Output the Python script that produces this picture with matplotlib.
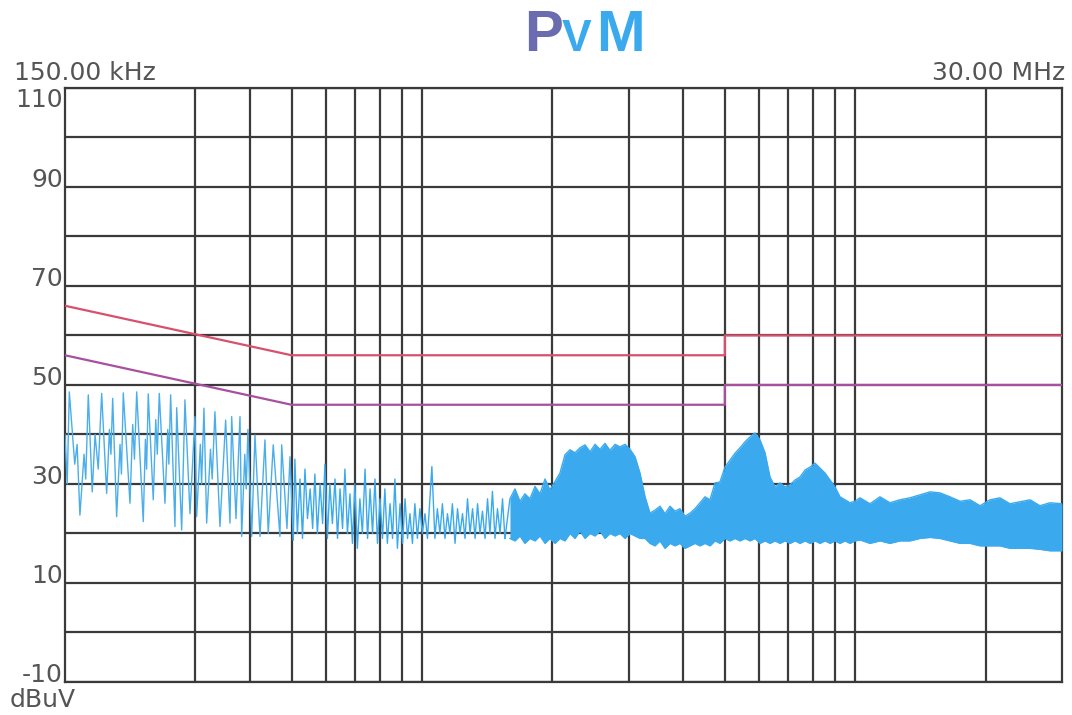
import matplotlib
matplotlib.use('Agg')
import matplotlib.pyplot as plt
import matplotlib.transforms as mtransforms


# sweep range, MHz
f_start = 0.15
f_stop = 30.0

# grid
grid_freqs = [0.3, 0.4, 0.5, 0.6, 0.7, 0.8, 0.9, 1, 2, 3, 4, 5, 6, 7, 8, 9, 10, 20]
level_ticks = [110, 90, 70, 50, 30, 10, -10]
level_grid = list(range(-10, 111, 10))

# class B limits, dBuV (quasi-peak and average)
qp_freqs = [0.15, 0.5, 5.0, 5.0, 30.0]
qp_limit = [66, 56, 56, 60, 60]
avg_freqs = [0.15, 0.5, 5.0, 5.0, 30.0]
avg_limit = [56, 46, 46, 50, 50]

# scan 150k - 500k, harmonics of the switcher
low_f = [0.150, 0.1518, 0.1535, 0.1580, 0.1600, 0.1624, 0.1660, 0.1675, 0.1698,
         0.1734, 0.1760, 0.1790, 0.1823, 0.1872, 0.1900, 0.1915, 0.1933, 0.1974,
         0.2010, 0.2025, 0.2045, 0.2119, 0.2150, 0.2170, 0.2196, 0.2274, 0.2300,
         0.2315, 0.2335, 0.2398, 0.2430, 0.2450, 0.2476, 0.2552, 0.2590, 0.2605,
         0.2630, 0.2691, 0.2716, 0.2789, 0.2838, 0.2915, 0.2993, 0.3020, 0.3080,
         0.3100, 0.3140, 0.3185, 0.3250, 0.3280, 0.3328, 0.3418, 0.3523, 0.3605,
         0.3638, 0.3722, 0.3802, 0.3836, 0.3900, 0.3930, 0.3966, 0.4046, 0.4117,
         0.4228, 0.4341, 0.4418, 0.4537, 0.4701, 0.4745, 0.4880, 0.4959, 0.5047]
low_db = [40.0, 30.0, 48.6, 34.0, 38.0, 23.7, 36.0, 31.0, 48.0,
          28.4, 40.0, 33.0, 48.3, 28.1, 41.0, 36.0, 47.3, 23.4,
          38.0, 32.0, 48.4, 26.1, 42.0, 35.0, 48.6, 22.4, 39.0,
          33.0, 48.2, 26.8, 43.0, 36.0, 48.3, 26.1, 41.0, 34.0,
          48.0, 21.4, 45.4, 20.7, 47.0, 24.0, 43.6, 23.4, 38.0,
          30.0, 45.3, 22.1, 37.0, 31.0, 44.6, 21.4, 42.9, 22.1,
          43.6, 23.0, 43.6, 19.4, 36.0, 29.0, 41.0, 19.4, 39.9,
          19.4, 38.9, 20.0, 37.9, 19.4, 37.9, 21.0, 35.5, 18.7]

# scan 500k - 1.55M
mid_f = [0.509, 0.5158, 0.523, 0.5300, 0.537, 0.5442, 0.552, 0.5594, 0.566, 0.5736,
         0.582, 0.5898, 0.597, 0.6050, 0.613, 0.6212, 0.630, 0.6384, 0.647, 0.6557,
         0.664, 0.6729, 0.682, 0.6911, 0.700, 0.7094, 0.719, 0.7286, 0.739, 0.7489,
         0.759, 0.7691, 0.779, 0.7894, 0.800, 0.8107, 0.821, 0.8320, 0.844, 0.8553,
         0.866, 0.8776, 0.890, 0.9019, 0.914, 0.9262, 0.938, 0.9505, 0.963, 0.9759,
         0.989, 1.0022, 1.016, 1.0296, 1.054, 1.071, 1.0853, 1.100, 1.1147, 1.130,
         1.1451, 1.160, 1.1755, 1.192, 1.2079, 1.224, 1.2404, 1.257, 1.2738, 1.291,
         1.3083, 1.326, 1.3437, 1.361, 1.3792, 1.398, 1.4167, 1.435, 1.4542, 1.474,
         1.4937, 1.514, 1.5342, 1.554]
mid_db = [35.0, 20.0, 31.0, 19.0, 33.0, 23.0, 29.0, 21.0, 32.0, 20.0,
          30.0, 22.0, 34.0, 19.0, 30.0, 22.0, 31.0, 19.0, 29.0, 21.0,
          33.0, 20.0, 28.0, 18.0, 30.0, 17.0, 27.0, 20.0, 33.0, 19.0,
          29.0, 20.0, 31.0, 18.0, 27.0, 19.0, 29.0, 18.0, 26.0, 19.0,
          31.0, 17.0, 26.0, 18.0, 27.0, 19.0, 24.0, 18.0, 26.0, 19.0,
          25.0, 20.0, 24.0, 19.0, 33.5, 19.0, 25.0, 20.0, 26.0, 19.0,
          24.0, 20.0, 26.0, 18.0, 25.0, 20.0, 24.0, 19.0, 27.0, 20.0,
          25.0, 19.0, 26.0, 20.0, 24.5, 19.0, 27.0, 20.0, 28.5, 19.0,
          25.0, 20.0, 27.0, 19.0]

# scan 1.6M - 30M, dense band (upper / lower edge)
band_f = [1.596, 1.639, 1.683, 1.728, 1.775, 1.823, 1.872, 1.923, 1.974, 2.028,
          2.082, 2.138, 2.196, 2.255, 2.316, 2.378, 2.442, 2.508, 2.575, 2.645,
          2.715, 2.790, 2.863, 2.942, 3.020, 3.102, 3.185, 3.272, 3.359, 3.449,
          3.542, 3.638, 3.736, 3.836, 3.939, 4.046, 4.155, 4.266, 4.382, 4.499,
          4.621, 4.745, 4.872, 5.004, 5.138, 5.277, 5.419, 5.565, 5.715, 5.868,
          6.027, 6.189, 6.356, 6.526, 6.703, 6.883, 7.068, 7.259, 7.454, 7.656,
          7.861, 8.073, 8.290, 8.514, 8.742, 8.976, 9.219, 9.467, 9.720, 9.984,
          10.25, 10.81, 11.40, 12.02, 12.68, 13.37, 14.10, 14.87, 15.68, 16.54,
          17.45, 18.40, 19.40, 20.46, 21.57, 22.75, 24.00, 25.31, 26.68, 28.14,
          30.00]
band_hi = [27.0, 29.0, 26.5, 28.0, 27.0, 29.5, 28.0, 31.0, 28.8, 30.5,
           32.2, 35.9, 36.9, 36.3, 37.3, 37.9, 36.5, 38.0, 37.0, 38.2,
           36.8, 38.0, 37.5, 38.0, 37.0, 35.5, 32.2, 27.4, 24.1, 24.7,
           25.5, 24.0, 25.5, 24.5, 25.0, 23.5, 24.1, 25.0, 26.2, 27.4,
           26.8, 30.2, 30.4, 33.4, 34.8, 36.2, 37.3, 38.5, 39.5, 40.3,
           38.9, 36.3, 31.4, 29.4, 30.2, 29.4, 29.8, 30.8, 31.4, 32.8,
           33.4, 34.2, 33.2, 32.2, 30.8, 29.4, 27.4, 26.8, 26.2, 26.5,
           27.2, 26.0, 27.4, 26.2, 26.8, 27.2, 27.8, 28.4, 28.2, 27.4,
           26.5, 26.8, 25.6, 26.8, 27.2, 26.0, 26.4, 26.8, 25.6, 26.2,
           26.0]
band_lo = [19.0, 18.5, 19.5, 18.0, 19.0, 18.5, 19.5, 18.0, 19.0, 18.0,
           19.0, 18.5, 20.0, 19.0, 20.5, 19.0, 20.0, 19.5, 20.5, 19.0,
           20.0, 19.5, 20.0, 19.0, 20.0, 19.5, 19.0, 19.0, 18.0, 17.5,
           18.5, 17.0, 18.0, 17.5, 18.0, 17.0, 17.5, 18.0, 17.5, 18.0,
           17.5, 18.5, 18.0, 19.0, 18.5, 19.0, 18.5, 19.0, 18.5, 19.0,
           18.0, 18.5, 18.0, 18.5, 18.0, 18.5, 18.0, 18.5, 18.0, 18.5,
           18.0, 18.5, 18.0, 18.5, 18.0, 18.5, 18.0, 18.5, 18.0, 18.5,
           18.7, 18.0, 18.5, 18.0, 18.5, 18.5, 19.0, 19.2, 19.0, 18.5,
           18.0, 18.0, 17.5, 17.5, 17.5, 17.0, 17.0, 17.0, 16.8, 16.5,
           16.5]

TRACE = '#3aa9ee'
GRID = '#3a3a3a'
TEXT = '#555555'


def draw_limits(ax):
    ax.plot(qp_freqs, qp_limit, color='#d8506e', lw=1.6, zorder=4)
    ax.plot(avg_freqs, avg_limit, color='#a8509e', lw=1.6, zorder=4)


def draw_trace(ax):
    ax.plot(low_f, low_db, color='#4aaeea', lw=1.0, zorder=3)
    ax.plot([low_f[-1]] + mid_f, [low_db[-1]] + mid_db, color=TRACE, lw=1.0, zorder=3)
    ax.fill_between(band_f, band_lo, band_hi, color=TRACE, lw=0, zorder=3)
    ax.plot([mid_f[-1]] + band_f, [mid_db[-1]] + band_hi, color=TRACE, lw=1.0, zorder=3)
    ax.plot(band_f, band_lo, color=TRACE, lw=1.0, zorder=3)


def main():
    plt.rcParams['font.family'] = ['DejaVu Sans']
    fig = plt.figure(figsize=(10.72, 7.15), dpi=100)
    ax = fig.add_axes([0.0606, 0.0462, 0.9301, 0.8308])

    ax.set_xscale('log')
    ax.set_xlim(f_start, f_stop)
    ax.set_ylim(-10, 110)
    ax.set_xticks([])
    ax.set_yticks([])
    ax.minorticks_off()
    for f in grid_freqs:
        ax.axvline(f, color=GRID, lw=1.6, zorder=1)
    for v in level_grid:
        ax.axhline(v, color=GRID, lw=1.6, zorder=1)
    for s in ax.spines.values():
        s.set_color(GRID)
        s.set_linewidth(1.6)

    draw_limits(ax)
    draw_trace(ax)

    # level labels sit on top of their grid line, except the top one
    trans = mtransforms.blended_transform_factory(ax.transAxes, ax.transData)
    for v in level_ticks:
        ax.text(-0.002, v, str(v), transform=trans, ha='right',
                va='top' if v == 110 else 'baseline', fontsize=18, color=TEXT)

    fig.text(0.013, 0.888, '150.00 kHz', fontsize=18, color=TEXT, va='baseline')
    fig.text(0.9935, 0.888, '30.00 MHz', fontsize=18, color=TEXT, va='baseline', ha='right')
    fig.text(0.009, 0.011, 'dBuV', fontsize=18, color=TEXT, va='baseline')

    # PMM logo
    logo = ['Liberation Sans Narrow', 'Liberation Sans']
    fig.text(0.489, 0.928, 'P', fontsize=42, fontweight='bold', color='#6b6bb0',
             va='baseline', family=logo)
    fig.text(0.5235, 0.928, 'V', fontsize=32, fontweight='bold', color=TRACE,
             va='baseline', family=logo)
    fig.text(0.5565, 0.928, 'M', fontsize=42, fontweight='bold', color=TRACE,
             va='baseline', family=logo)

    fig.savefig('out.png', dpi=100)


if __name__ == '__main__':
    main()
